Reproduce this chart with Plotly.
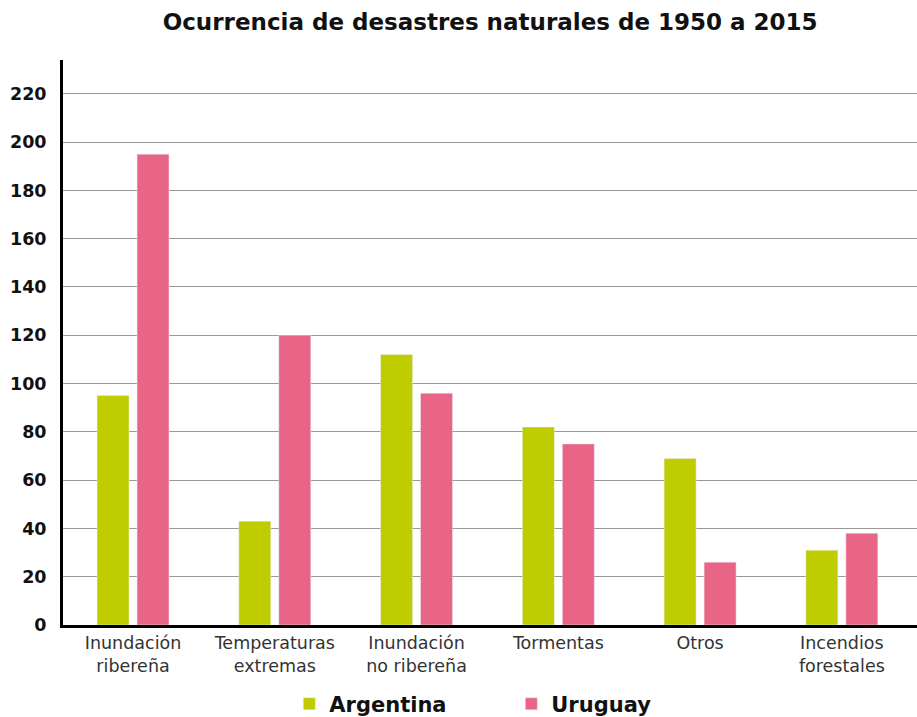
import plotly.graph_objects as go

categories = ["Inundación<br>ribereña", "Temperaturas<br>extremas", "Inundación<br>no ribereña",
              "Tormentas", "Otros", "Incendios<br>forestales"]
argentina = [95, 43, 112, 82, 69, 31]
uruguay = [195, 120, 96, 75, 26, 38]
tick_vals = [0, 20, 40, 60, 80, 100, 120, 140, 160, 180, 200, 220]

FONT = "DejaVu Sans"

fig = go.Figure()
fig.add_trace(go.Bar(x=categories, y=argentina, name="Argentina", marker_color="#BFCD00"))
fig.add_trace(go.Bar(x=categories, y=uruguay, name="Uruguay", marker_color="#E96585"))

fig.update_layout(
    width=917, height=717,
    margin=dict(l=63, r=0, t=60, b=92, autoexpand=False),
    paper_bgcolor="white", plot_bgcolor="white",
    title=dict(text="Ocurrencia de desastres naturales de 1950 a 2015",
               x=0.5345, xanchor="center", y=0.969, yanchor="middle",
               font=dict(family=FONT, size=23, color="#111", weight="bold")),
    barmode="group", bargap=0.436, bargroupgap=0.2,
    font=dict(family=FONT, color="#111"),
    legend=dict(orientation="h", x=0.265, xanchor="left", y=-0.14, yanchor="middle",
                entrywidth=177, entrywidthmode="pixels",
                font=dict(family=FONT, size=21, color="#111", weight="bold"), itemwidth=30),
    showlegend=True,
)
fig.update_xaxes(range=[-0.494, 5.53], showline=True, linecolor="black", linewidth=3,
                 ticks="", tickfont=dict(family=FONT, size=17.5, color="#333"),
                 showgrid=False, fixedrange=True, automargin=False)
fig.update_yaxes(range=[0, 234], tickvals=tick_vals, showline=True, linecolor="black", linewidth=3,
                 showgrid=True, gridcolor="#999", gridwidth=1.3, zeroline=False,
                 ticks="", ticklabelstandoff=10, automargin=False,
                 tickfont=dict(family=FONT, size=17.5, color="#111", weight="bold"))

fig.write_html("out.html", config={"displayModeBar": False},
               post_script="document.body.style.margin='0';")
